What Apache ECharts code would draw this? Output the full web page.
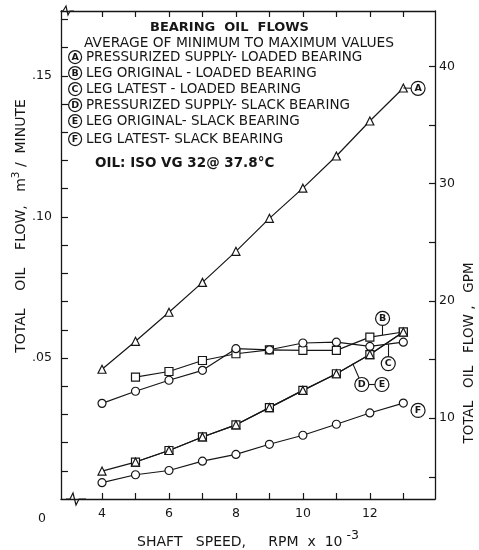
<!DOCTYPE html>
<html><head><meta charset="utf-8">
<script src="https://cdn.jsdelivr.net/npm/echarts@6/dist/echarts.min.js"></script>
<style>html,body{margin:0;padding:0;background:#fff}#c{width:479px;height:550px}</style>
</head><body><div id="c"></div>
<script>
// ---- data (shaft speed in RPM x 10^-3, total oil flow in m3/minute) ----
const speedsA = [4,5,6,7,8,9,10,11,12,13];
const flowA   = [0.0460,0.0559,0.0662,0.0768,0.0878,0.0995,0.1102,0.1216,0.1340,0.1457];
const speedsB = [5,6,7,8,9,10,11,12,13];
const flowB   = [0.0432,0.0452,0.0491,0.0515,0.0529,0.0527,0.0527,0.0574,0.0592];
const speedsC = [4,5,6,7,8,9,10,11,12,13];
const flowC   = [0.0339,0.0382,0.0421,0.0456,0.0533,0.0529,0.0553,0.0556,0.0541,0.0556];
const speedsD = [4,5,6,7,8,9,10,11,12,13];
const flowD   = [0.0099,0.0131,0.0172,0.0220,0.0263,0.0324,0.0385,0.0444,0.0512,0.0592];
const speedsE = [5,6,7,8,9,10,11,12,13];
const flowE   = [0.0131,0.0172,0.0220,0.0263,0.0324,0.0385,0.0444,0.0512,0.0592];
const speedsF = [4,5,6,7,8,9,10,11,12,13];
const flowF   = [0.0058,0.0086,0.0101,0.0134,0.0158,0.0194,0.0226,0.0265,0.0305,0.0340];

// ---- ticks / labels ----
const xTicks = [4,5,6,7,8,9,10,11,12,13];
const xLabels = [4,6,8,10,12];
const yTicks = [0.01,0.02,0.03,0.04,0.05,0.06,0.07,0.08,0.09,0.10,0.11,0.12,0.13,0.14,0.15,0.16,0.17];
const yLabels = [0,0.05,0.10,0.15];
const gpmTicks = [5,10,15,20,25,30,35,40];
const gpmLabels = [10,20,30,40];

// ---- legend / annotation text ----
const titleLines = ['BEARING  OIL  FLOWS','AVERAGE OF MINIMUM TO MAXIMUM VALUES'];
const legendItems = [
  ['A','PRESSURIZED SUPPLY- LOADED BEARING'],
  ['B','LEG ORIGINAL - LOADED BEARING'],
  ['C','LEG LATEST - LOADED BEARING'],
  ['D','PRESSURIZED SUPPLY- SLACK BEARING'],
  ['E','LEG ORIGINAL- SLACK BEARING'],
  ['F','LEG LATEST- SLACK BEARING']
];
const oilNote = 'OIL: ISO VG 32@ 37.8°C';

const INK = '#161616';
const FONT = 'DejaVu Sans';
const pairs = (xs, ys) => xs.map((x,i)=>[x, ys[i]]);

const circ = {color:'#fff', borderColor:INK, borderWidth:1.2};
const circLabel = {show:true, position:'inside', color:INK, fontSize:9.5, fontWeight:'bold', fontFamily:FONT, formatter:p=>p.name};
function mp(name, coord){ return {name, coord, symbol:'circle', symbolSize:14, itemStyle:circ, label:circLabel}; }

function mkSeries(name, data, symbol, extra){
  return Object.assign({
    name, type:'line', data, symbol, symbolSize:8, showSymbol:true,
    itemStyle:{color:'#fff', borderColor:INK, borderWidth:1.2},
    lineStyle:{color:INK, width:1.2}, animation:false, silent:true, z:3
  }, extra||{});
}
const mlStyle = {symbol:'none', silent:true, lineStyle:{color:INK, width:1.1, type:'solid'}, label:{show:false}, animation:false};

const chart = echarts.init(document.getElementById('c'), null, {renderer:'canvas'});

const legendGraphics = [];
titleLines.forEach((t,i)=>{
  legendGraphics.push({type:'text', left: i===0 ? 150 : 84, top: [21,36][i],
    style:{text:t, font: i===0 ? `bold 13px "${FONT}"` : `13.8px "${FONT}"`, fill:INK}});
});
legendItems.forEach((it,i)=>{
  legendGraphics.push({type:'text', left:68, top:[50,66,82,98,114,132][i],
    style:{text:`{c|${it[0]}} ${it[1]}`, font:`13.5px "${FONT}"`, fill:INK,
      rich:{c:{fontSize:9.5, fontWeight:'bold', fontFamily:FONT, color:INK, width:11, height:11, lineHeight:11, align:'center',
        borderColor:INK, borderWidth:1.2, borderRadius:7, padding:[1,1,1,1]}}}});
});
legendGraphics.push({type:'text', left:95, top:156, style:{text:oilNote, font:`bold 13.5px "${FONT}"`, fill:INK}});
// axis-break squiggles
legendGraphics.push({type:'polyline', shape:{points:[[66,499],[70,499],[73,493],[76,505],[79,499],[86,499]]}, style:{stroke:INK, lineWidth:1.2, fill:null}});
legendGraphics.push({type:'polyline', shape:{points:[[61,11],[63,11],[66,6],[68,15],[70,11],[74,11]]}, style:{stroke:INK, lineWidth:1.2, fill:null}});

chart.setOption({
  backgroundColor:'#fff',
  animation:false,
  textStyle:{fontFamily:FONT, color:INK},
  grid:{left:61, right:44, top:11, bottom:51, containLabel:false, outerBoundsMode:'none'},
  xAxis:[{
    type:'value', min:2.775, max:13.946,
    axisLine:{show:true, onZero:false, lineStyle:{color:INK, width:1.3}},
    axisTick:{show:true, inside:true, length:6, customValues:xTicks, lineStyle:{color:INK, width:1.2}},
    axisLabel:{show:true, customValues:xLabels, margin:8, fontSize:12.5, color:INK, fontFamily:FONT},
    splitLine:{show:false},
    name:'{n|SHAFT   SPEED,     RPM  x  10}{s| -3}', nameLocation:'middle', nameGap:30, nameMoveOverlap:false,
    nameTextStyle:{rich:{n:{fontSize:14, fontFamily:FONT, color:INK}, s:{fontSize:12.5, fontFamily:FONT, color:INK, padding:[0,0,13,0]}}}
  },{
    type:'value', position:'top', min:2.775, max:13.946,
    axisLine:{show:true, onZero:false, lineStyle:{color:INK, width:1.3}},
    axisTick:{show:true, inside:true, length:6, customValues:xTicks, lineStyle:{color:INK, width:1.2}},
    axisLabel:{show:false}, splitLine:{show:false}
  }],
  yAxis:[{
    type:'value', min:0, max:0.173,
    axisLine:{show:true, onZero:false, lineStyle:{color:INK, width:1.3}},
    axisTick:{show:true, inside:true, length:7, customValues:yTicks, lineStyle:{color:INK, width:1.2}},
    axisLabel:{show:true, customValues:yLabels, margin:9, fontSize:12.5, color:INK, fontFamily:FONT,
      formatter:v=> v===0 ? '{z|0}' : '.' + String(Math.round(v*100)).padStart(2,'0'),
      rich:{z:{fontSize:12.5, fontFamily:FONT, color:INK, padding:[40,6,0,0]}}},
    splitLine:{show:false},
    name:'{n|TOTAL    OIL    FLOW,   m}{s|3}{n| /  MINUTE}', nameLocation:'middle', nameGap:29, nameRotate:90, nameMoveOverlap:false,
    nameTextStyle:{padding:[0,0,0,58], rich:{n:{fontSize:14, fontFamily:FONT, color:INK}, s:{fontSize:10.5, fontFamily:FONT, color:INK, padding:[0,0,10,0]}}}
  },{
    type:'value', position:'right', min:3.11, max:44.71,
    axisLine:{show:true, onZero:false, lineStyle:{color:INK, width:1.3}},
    axisTick:{show:true, inside:true, length:6, customValues:gpmTicks, lineStyle:{color:INK, width:1.2}},
    axisLabel:{show:true, customValues:gpmLabels, margin:4, fontSize:12.5, color:INK, fontFamily:FONT},
    splitLine:{show:false},
    name:'TOTAL   OIL   FLOW ,   GPM', nameLocation:'middle', nameGap:27, nameRotate:90, nameMoveOverlap:false,
    nameTextStyle:{fontSize:13.5, fontFamily:FONT, color:INK, padding:[0,196,0,0]}
  }],
  graphic:legendGraphics,
  series:[
    mkSeries('A', pairs(speedsA, flowA), 'triangle', {
      markPoint:{silent:true, animation:false, data:[mp('A',[13.44,0.1456])]},
      markLine:Object.assign({}, mlStyle, {data:[[{coord:[13.0,0.1457]},{coord:[13.23,0.1456]}]]})
    }),
    mkSeries('B', pairs(speedsB, flowB), 'rect', {
      markPoint:{silent:true, animation:false, data:[mp('B',[12.38,0.0640])]},
      markLine:Object.assign({}, mlStyle, {data:[[{coord:[12.38,0.0581]},{coord:[12.38,0.0615]}]]})
    }),
    mkSeries('C', pairs(speedsC, flowC), 'circle', {
      markPoint:{silent:true, animation:false, data:[mp('C',[12.55,0.0480])]},
      markLine:Object.assign({}, mlStyle, {data:[[{coord:[12.55,0.0549]},{coord:[12.55,0.0505]}]]})
    }),
    mkSeries('E', pairs(speedsE, flowE), 'rect', {
      markPoint:{silent:true, animation:false, data:[mp('E',[12.36,0.0406])]},
      markLine:Object.assign({}, mlStyle, {data:[[{coord:[11.76,0.0406]},{coord:[12.36,0.0406]}]]})
    }),
    mkSeries('D', pairs(speedsD, flowD), 'triangle', {
      markPoint:{silent:true, animation:false, data:[mp('D',[11.76,0.0406])]},
      markLine:Object.assign({}, mlStyle, {data:[[{coord:[11.49,0.0480]},{coord:[11.68,0.0428]}]]})
    }),
    mkSeries('F', pairs(speedsF, flowF), 'circle', {
      markPoint:{silent:true, animation:false, data:[mp('F',[13.44,0.0314])]}
    })
  ]
});
</script></body></html>
